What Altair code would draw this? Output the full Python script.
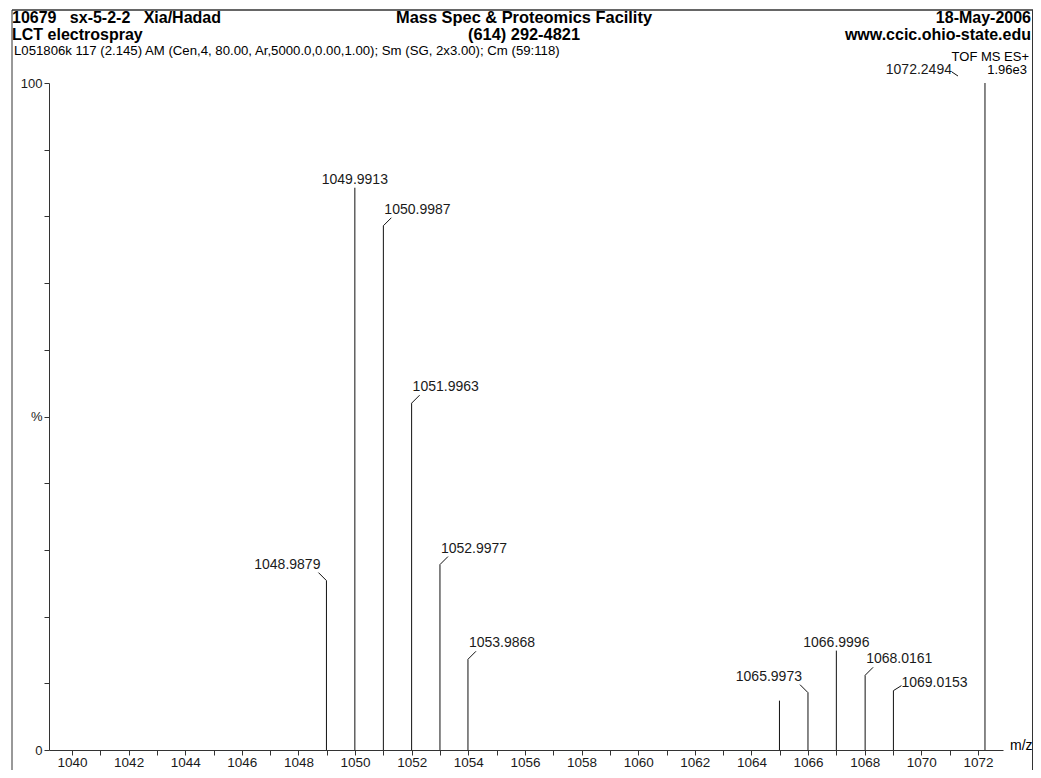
import altair as alt
import pandas as pd

# ---------------- data ----------------
mz = [1048.9879, 1049.9913, 1050.9987, 1051.9963, 1052.9977, 1053.9868,
      1064.99, 1065.9973, 1066.9996, 1068.0161, 1069.0153, 1072.2494]
intensity = [25.4, 84.3, 78.6, 52.0, 27.8, 13.6,
             7.4, 8.6, 14.9, 11.2, 8.9, 100.0]
labels = ["1048.9879", "1049.9913", "1050.9987", "1051.9963", "1052.9977", "1053.9868",
          "", "1065.9973", "1066.9996", "1068.0161", "1069.0153", "1072.2494"]
placement = ["left", "above", "right", "right", "right", "right",
             "none", "left", "above", "right", "right_low", "far_left"]

x_ticks = list(range(1040, 1073))
y_ticks = list(range(0, 101, 10))

NB = "\u00a0"
header_left = ["10679" + NB * 3 + "sx-5-2-2" + NB * 3 + "Xia/Hadad", "LCT electrospray"]
header_center = ["Mass Spec & Proteomics Facility", "(614) 292-4821"]
header_right = ["18-May-2006", "www.ccic.ohio-state.edu"]
info_line = "L051806k 117 (2.145) AM (Cen,4, 80.00, Ar,5000.0,0.00,1.00); Sm (SG, 2x3.00); Cm (59:118)"
mode_text = "TOF MS ES+"
scale_text = "1.96e3"
x_unit = "m/z"

df = pd.DataFrame({"mz": mz, "intensity": intensity, "label": labels, "place": placement})

FONT = "Liberation Sans"
INK = "#111111"
TXT = "#1a1a1a"
W, H = 954, 667

xs = alt.Scale(domain=[1039.1876, 1072.886], nice=False, zero=False)
ys = alt.Scale(domain=[0, 100], nice=False, zero=True)

X = alt.X("mz:Q", scale=xs, axis=alt.Axis(
    values=x_ticks, format="d", title=None, grid=False,
    labelExpr="datum.value % 2 == 0 ? datum.label : ''",
    tickSize=5, labelPadding=0, labelFontSize=13.5, labelFont=FONT,
    labelColor=TXT, domainColor="#333333", tickColor="#333333",
    labelFlush=False, labelOverlap=False))
Y = alt.Y("intensity:Q", scale=ys, axis=alt.Axis(
    values=y_ticks, title=None, grid=False,
    labelExpr="datum.value == 50 ? '%' : ((datum.value == 0 || datum.value == 100) ? datum.label : '')",
    tickSize=5, labelPadding=2, labelFontSize=13, labelFont=FONT,
    labelColor=TXT, domainColor="#333333", tickColor="#333333",
    labelOverlap=False))

base = alt.Chart(df)

peaks = base.mark_rule(color=INK, strokeWidth=1).encode(x=X, y=Y, y2=alt.datum(0))

def leader(place, x2o, y2o, xo=0, yo=0):
    return base.transform_filter(alt.datum.place == place).mark_rule(
        color=INK, strokeWidth=1, xOffset=xo, yOffset=yo, x2Offset=x2o, y2Offset=y2o
    ).encode(x=X, y=Y, x2="mz:Q", y2="intensity:Q")

def label(place, align, dx, dy):
    return base.transform_filter(alt.datum.place == place).mark_text(
        align=align, baseline="middle", dx=dx, dy=dy, fontSize=14, font=FONT, color=TXT
    ).encode(x=X, y=Y, text="label:N")

layers = [
    peaks,
    leader("right", 8, -8), leader("left", -8, -8), leader("right_low", 8, -5),
    leader("far_left", -27, -7, -33, -11),
    label("above", "center", 0, -8),
    label("right", "left", 1, -16),
    label("left", "right", -6, -16),
    label("right_low", "left", 8, -8),
    label("far_left", "right", -33, -13),
]

def txt(t, px, py, align="left", size=13, weight="normal"):
    return alt.Chart(pd.DataFrame({"t": [t]})).mark_text(
        align=align, baseline="middle", fontSize=size, fontWeight=weight, font=FONT, color="#000000"
    ).encode(x=alt.value(px), y=alt.value(py), text="t:N")

# header / annotations (chart coords: page - (49, 83))
layers += [
    txt(header_left[0], -37, -65, "left", 16, "bold"),
    txt(header_left[1], -37, -48, "left", 16, "bold"),
    txt(header_center[0], 475, -65, "center", 16.4, "bold"),
    txt(header_center[1], 475, -48, "center", 16.4, "bold"),
    txt(header_right[0], 982, -65, "right", 16, "bold"),
    txt(header_right[1], 982, -48, "right", 16, "bold"),
    txt(info_line, -35, -32, "left", 13.2),
    txt(mode_text, 980, -26, "right", 13),
    txt(scale_text, 978, -13, "right", 13),
    txt(x_unit, 961, H - 4, "left", 14),
]

one = pd.DataFrame({"a": [0]})
frame = [
    alt.Chart(one).mark_rule(color="#333333", strokeWidth=1.5).encode(
        x=alt.value(-37), x2=alt.value(984), y=alt.value(-73)),
    alt.Chart(one).mark_rule(color="#333333", strokeWidth=1).encode(
        x=alt.value(-37), y=alt.value(-73), y2=alt.value(700)),
    alt.Chart(one).mark_rule(color="#333333", strokeWidth=1).encode(
        x=alt.value(983.5), y=alt.value(-73), y2=alt.value(700)),
]
layers += frame

chart = alt.layer(*layers).properties(
    width=W, height=H,
    autosize=alt.AutoSizeParams(type="none"),
    padding={"left": 41, "top": 75, "right": 30, "bottom": 20},
    background="white",
).configure_view(stroke=None)

chart.save("out.html", embed_options={"renderer": "svg", "actions": False})
